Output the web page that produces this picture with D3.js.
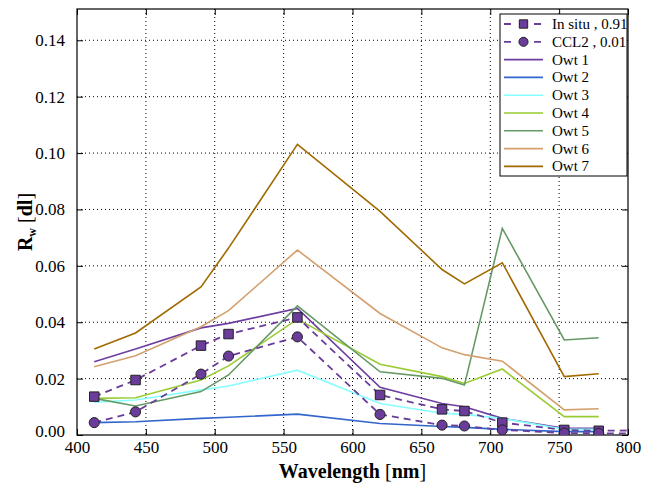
<!DOCTYPE html>
<html>
<head>
<meta charset="utf-8">
<script src="https://cdn.jsdelivr.net/npm/d3@7"></script>
<style>
  body { margin: 0; background: #fff; }
</style>
</head>
<body>
<svg id="chart" width="653" height="483"></svg>
<script>
// band centres (OLCI), nm
const bands = [412.5, 442.5, 490, 510, 560, 620, 665, 681.25, 708.75, 753.75, 778.75];
const bandsExt = bands.concat([865]);

const inSitu = [0.0136, 0.0195, 0.0317, 0.0358, 0.0417, 0.0142, 0.0091, 0.0085, 0.0044, 0.0018, 0.0015, 0.0019];
const ccl2   = [0.0044, 0.0082, 0.0216, 0.0280, 0.0348, 0.0073, 0.0035, 0.0032, 0.0018, 0.0007, 0.0006, 0.0004];

const owt1 = [0.0260, 0.0305, 0.0380, 0.0396, 0.0449, 0.0169, 0.0112, 0.0100, 0.0059, 0.0024, 0.0024];
const owt2 = [0.0044, 0.0047, 0.0059, 0.0063, 0.0074, 0.0041, 0.0030, 0.0027, 0.0020, 0.0012, 0.0012];
const owt3 = [0.0116, 0.0124, 0.0160, 0.0174, 0.0230, 0.0112, 0.0077, 0.0073, 0.0059, 0.0020, 0.0020];
const owt4 = [0.0130, 0.0132, 0.0195, 0.0245, 0.0411, 0.0251, 0.0207, 0.0183, 0.0234, 0.0065, 0.0065];
const owt5 = [0.0130, 0.0103, 0.0154, 0.0213, 0.0458, 0.0224, 0.0201, 0.0177, 0.0733, 0.0337, 0.0345];
const owt6 = [0.0242, 0.0281, 0.0384, 0.0441, 0.0656, 0.0431, 0.0309, 0.0285, 0.0262, 0.0089, 0.0093];
const owt7 = [0.0305, 0.0362, 0.0525, 0.0663, 0.1031, 0.0793, 0.0587, 0.0536, 0.0611, 0.0207, 0.0217];

const owtNames = ["Owt 1", "Owt 2", "Owt 3", "Owt 4", "Owt 5", "Owt 6", "Owt 7"];
const owtColors = ["#6e3da0", "#3366cc", "#88ffff", "#99cc33", "#669966", "#d4a06e", "#a06a00"];
const owtValues = [owt1, owt2, owt3, owt4, owt5, owt6, owt7];

const xTicks = [400, 450, 500, 550, 600, 650, 700, 750, 800];
const yTicks = [0, 0.02, 0.04, 0.06, 0.08, 0.10, 0.12, 0.14];

const margin = { top: 9, right: 25, bottom: 48, left: 77 };
const W = 653, H = 483;
const iw = W - margin.left - margin.right, ih = H - margin.top - margin.bottom;
const serif = '"Liberation Serif"';

const svg = d3.select("#chart");
const g = svg.append("g").attr("transform", `translate(${margin.left},${margin.top})`);

const x = d3.scaleLinear().domain([400, 800]).range([0, iw]);
const y = d3.scaleLinear().domain([0, 0.1511]).range([ih, 0]);

svg.append("defs").append("clipPath").attr("id", "clip")
  .append("rect").attr("width", iw).attr("height", ih);

// grid
g.append("g").selectAll("line").data(xTicks.slice(1, -1)).join("line")
  .attr("x1", d => x(d)).attr("x2", d => x(d)).attr("y1", 0).attr("y2", ih)
  .attr("stroke", "#000").attr("stroke-width", 1).attr("stroke-dasharray", "1,3");
g.append("g").selectAll("line").data(yTicks.slice(1)).join("line")
  .attr("y1", d => y(d)).attr("y2", d => y(d)).attr("x1", 0).attr("x2", iw)
  .attr("stroke", "#000").attr("stroke-width", 1).attr("stroke-dasharray", "1,3");

// axes
const xAx = g.append("g").attr("transform", `translate(0,${ih})`)
  .call(d3.axisBottom(x).tickValues(xTicks).tickFormat(d3.format("d")).tickSizeInner(-6).tickSizeOuter(0).tickPadding(6));
const xAxTop = g.append("g")
  .call(d3.axisTop(x).tickValues(xTicks).tickFormat("").tickSizeInner(-6).tickSizeOuter(0));
const yAx = g.append("g")
  .call(d3.axisLeft(y).tickValues(yTicks).tickFormat(d3.format(".2f")).tickSizeInner(-6).tickSizeOuter(0).tickPadding(12));
const yAxR = g.append("g").attr("transform", `translate(${iw},0)`)
  .call(d3.axisRight(y).tickValues(yTicks).tickFormat("").tickSizeInner(-6).tickSizeOuter(0));
[xAx, xAxTop, yAx, yAxR].forEach(a => {
  a.attr("font-family", serif);
  a.select(".domain").remove();
  a.selectAll("text").attr("fill", "#000").attr("font-family", serif).attr("font-size", 17);
});
yAx.selectAll(".tick text").filter(d => d === 0).attr("dy", "0.1em");
g.append("rect").attr("width", iw).attr("height", ih).attr("fill", "none").attr("stroke", "#000").attr("stroke-width", 1.2);

// lines
const plot = g.append("g").attr("clip-path", "url(#clip)");
const line = d3.line().x(d => x(d[0])).y(d => y(d[1]));

owtValues.forEach((vals, i) => {
  plot.append("path").datum(bands.map((b, j) => [b, vals[j]]))
    .attr("fill", "none").attr("stroke", owtColors[i]).attr("stroke-width", 1.6)
    .attr("d", line);
});

const markColor = "#6a3d9a";
[inSitu, ccl2].forEach((vals, k) => {
  const pts = bandsExt.map((b, j) => [b, vals[j]]);
  plot.append("path").datum(pts)
    .attr("fill", "none").attr("stroke", markColor).attr("stroke-width", 1.8)
    .attr("stroke-dasharray", "7,5").attr("d", line);
  plot.append("g").selectAll("path").data(pts.slice(0, bands.length)).join("path")
    .attr("transform", d => `translate(${x(d[0])},${y(d[1])})`)
    .attr("d", d3.symbol().type(k === 0 ? d3.symbolSquare : d3.symbolCircle).size(k === 0 ? 90 : 80))
    .attr("fill", markColor).attr("stroke", "#222").attr("stroke-width", 1);
});

// axis titles
const yt = svg.append("text").attr("transform", `translate(32,${margin.top + ih / 2}) rotate(-90)`)
  .attr("text-anchor", "middle").attr("font-family", serif).attr("font-size", 20).attr("font-weight", "bold");
yt.append("tspan").text("R");
yt.append("tspan").attr("dy", 4).attr("font-size", 12).text("w");
yt.append("tspan").attr("dy", -4).attr("font-weight", "normal").text(" [");
yt.append("tspan").text("dl");
yt.append("tspan").attr("font-weight", "normal").text("]");

const xt = svg.append("text").attr("x", margin.left + iw / 2).attr("y", 478)
  .attr("text-anchor", "middle").attr("font-family", serif).attr("font-size", 20).attr("font-weight", "bold");
xt.append("tspan").text("Wavelength ");
xt.append("tspan").attr("font-weight", "normal").text("[");
xt.append("tspan").text("nm");
xt.append("tspan").attr("font-weight", "normal").text("]");

// legend
const lg = g.append("g").attr("transform", `translate(${500 - margin.left},${14 - margin.top})`);
lg.append("rect").attr("width", 127).attr("height", 162).attr("fill", "#fff").attr("stroke", "#000").attr("stroke-width", 1);
const rows = [
  { name: "In situ , 0.91", color: markColor, dash: true, sym: d3.symbolSquare },
  { name: "CCL2 , 0.01", color: markColor, dash: true, sym: d3.symbolCircle }
].concat(owtNames.map((n, i) => ({ name: n, color: owtColors[i], dash: false })));
rows.forEach((r, i) => {
  const yy = 10 + i * 17.8;
  lg.append("line").attr("x1", 4).attr("x2", 43).attr("y1", yy).attr("y2", yy)
    .attr("stroke", r.color).attr("stroke-width", r.dash ? 1.8 : 1.6)
    .attr("stroke-dasharray", r.dash ? "7,8" : null);
  if (r.sym) {
    lg.append("path").attr("transform", `translate(23.5,${yy})`)
      .attr("d", d3.symbol().type(r.sym).size(r.sym === d3.symbolSquare ? 70 : 65))
      .attr("fill", markColor).attr("stroke", "#222");
  }
  lg.append("text").attr("x", 52).attr("y", yy + 5).attr("font-family", serif).attr("font-size", 15).text(r.name);
});
</script>
</body>
</html>
